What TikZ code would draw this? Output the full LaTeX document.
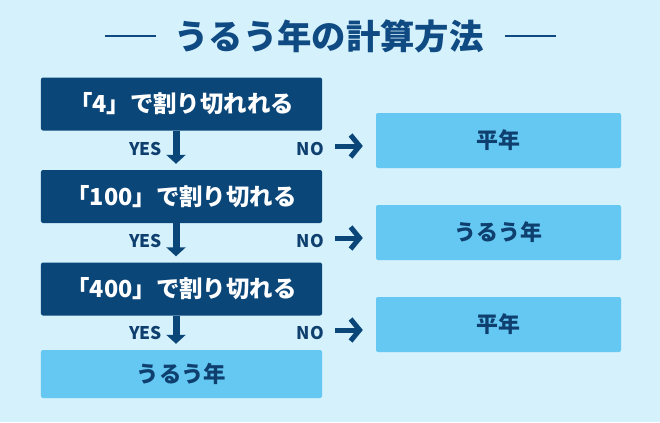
\documentclass[tikz,border=0pt]{standalone}
\usepackage{fontspec}
\setmainfont{Noto Sans CJK JP}
\usetikzlibrary{arrows.meta}
\definecolor{bg}{HTML}{D4F1FC}
\definecolor{darkbox}{HTML}{0B4679}
\definecolor{lightbox}{HTML}{64C8F3}
\definecolor{ink}{HTML}{0E3F6E}
\definecolor{titleink}{HTML}{0F4A82}
\tikzset{
  x=1bp,y=-1bp,
  darkstep/.style={fill=darkbox,rounded corners=2bp,minimum width=281bp,minimum height=53bp,inner sep=0pt,
    text=white,font=\bfseries\fontsize{23.5}{23.5}\selectfont},
  leftresult/.style={fill=lightbox,rounded corners=2bp,minimum width=281bp,minimum height=48bp,inner sep=0pt,
    text=ink,font=\bfseries\fontsize{22.5}{22.5}\selectfont},
  rightresult/.style={fill=lightbox,rounded corners=2bp,minimum width=245bp,minimum height=55bp,inner sep=0pt,
    text=ink,font=\bfseries\fontsize{22}{22}\selectfont},
  lbl/.style={text=ink,font=\bfseries\fontsize{17.5}{17.5}\selectfont,inner sep=0pt},
  downarrow/.style={draw=darkbox,line width=7bp,-{Triangle[width=19bp,length=9bp]},shorten >=6bp},
  noarrow/.style={draw=darkbox,line width=5bp,-{Straight Barb[width=22bp,length=9bp,line width=5bp]},shorten >=13bp},
  titledash/.style={draw=titleink,line width=1.8bp}
}
\begin{document}
\begin{tikzpicture}
\useasboundingbox (0,0) rectangle (660,422);
\fill[bg] (0,0) rectangle (660,422);
% title
\node[text=titleink,font=\bfseries\fontsize{34.5}{34.5}\selectfont,inner sep=0pt] (title) at (329,36) {うるう年の計算方法};
\coordinate (tl1) at (105,36); \coordinate (tl2) at (156,36);
\coordinate (tr1) at (505,36); \coordinate (tr2) at (556,36);
\draw[titledash] (tl1) -- (tl2);
\draw[titledash] (tr1) -- (tr2);
% left column
\node[darkstep] (b1) at (181.5,104) {「4」で割り切れれる};
\node[darkstep] (b2) at (181.5,196.5) {「100」で割り切れる};
\node[darkstep] (b3) at (181.5,289) {「400」で割り切れる};
\node[leftresult] (b4) at (181.5,374) {うるう年};
% right column
\node[rightresult] (r1) at (498.5,140.5) {平年};
\node[rightresult] (r2) at (498.5,232.5) {うるう年};
\node[rightresult] (r3) at (498.5,324.5) {平年};
% down arrows
\draw[downarrow] ([xshift=-5.5bp]b1.south) -- ([xshift=-5.5bp]b2.north);
\draw[downarrow] ([xshift=-5.5bp]b2.south) -- ([xshift=-5.5bp]b3.north);
\draw[downarrow] ([xshift=-5.5bp]b3.south) -- ([xshift=-5.5bp]b4.north);
% labels
\node[lbl,anchor=east] (y1) at (162,149) {YES};
\node[lbl,anchor=east] (y2) at (162,241) {YES};
\node[lbl,anchor=east] (y3) at (162,333) {YES};
\node[lbl,anchor=east] (n1) at (324,149) {NO};
\node[lbl,anchor=east] (n2) at (324,241) {NO};
\node[lbl,anchor=east] (n3) at (324,333) {NO};
% no arrows
\coordinate (a1) at (335,146);
\coordinate (a2) at (335,238);
\coordinate (a3) at (335,330);
\draw[noarrow] (a1) -- (a1 -| r1.west);
\draw[noarrow] (a2) -- (a2 -| r2.west);
\draw[noarrow] (a3) -- (a3 -| r3.west);
\end{tikzpicture}
\end{document}
